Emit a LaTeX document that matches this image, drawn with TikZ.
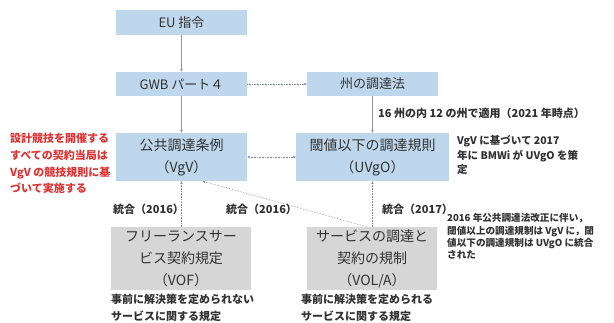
\documentclass[tikz,border=0pt]{standalone}
\usepackage{fontspec}
\setmainfont{Noto Sans CJK JP}
\usetikzlibrary{arrows.meta,calc}
\definecolor{boxblue}{RGB}{190,215,236}
\definecolor{boxgray}{RGB}{214,214,214}
\definecolor{txt}{RGB}{50,50,50}
\definecolor{redtxt}{RGB}{222,52,52}
\definecolor{arr}{RGB}{150,150,150}
\definecolor{dotarr}{RGB}{130,140,165}
\newcommand{\tlines}[1]{\parbox[t]{200pt}{\raggedright #1}}
\begin{document}
\begin{tikzpicture}[x=1pt,y=-1pt,
  box/.style={inner sep=0pt, align=center, text=txt},
  bluebox/.style={box, fill=boxblue},
  graybox/.style={box, fill=boxgray},
  topfont/.style={font=\fontsize{13}{16}\selectfont},
  midfont/.style={font=\fontsize{14}{22}\selectfont},
  note/.style={anchor=base west, inner sep=0pt, text=txt},
  solidarr/.style={draw=arr, line width=0.6pt, -{Stealth[length=3pt,width=2.6pt]}},
  dotarrow/.style={draw=dotarr, line width=0.6pt, densely dotted, -{Stealth[length=3pt,width=2.6pt]}},
]
\useasboundingbox (0,0) rectangle (614,323);

% boxes
\node[bluebox, topfont, minimum width=131pt, minimum height=25pt] (eu) at (181.5,22.5) {EU 指令};
\node[bluebox, topfont, minimum width=131pt, minimum height=24pt] (gwb) at (181.5,84) {GWB パート４};
\node[bluebox, topfont, minimum width=131pt, minimum height=24pt] (shu) at (372.5,84) {州の調達法};
\node[bluebox, midfont, minimum width=131pt, minimum height=48pt] (vgv) at (181.5,157) {公共調達条例\\（VgV）};
\node[bluebox, midfont, minimum width=153pt, minimum height=48pt] (uvgo) at (372.5,157) {閾値以下の調達規則\\（UVgO）};
\node[graybox, midfont, minimum width=140pt, minimum height=63pt] (vof) at (181,258.5) {フリーランスサー\\ビス契約規定\\（VOF）};
\node[graybox, midfont, minimum width=130pt, minimum height=63pt] (vola) at (372,258.5) {サービスの調達と\\契約の規制\\（VOL/A）};

% connectors
\draw[solidarr] (eu) -- (gwb);
\draw[solidarr] (gwb) -- (vgv);
\draw[solidarr] (shu) -- (uvgo);
\draw[dotarrow] (gwb) -- (shu);
\draw[dotarrow, {Stealth[length=3pt,width=2.6pt]}-{Stealth[length=3pt,width=2.6pt]}] (vgv) -- (uvgo);
\draw[dotarrow] (vof.north -| vgv) -- (vgv.south);
\draw[dotarrow] (vola.north -| uvgo) -- (uvgo.south);
\draw[dotarrow] ([xshift=-5pt]vola.north) -- ([xshift=21pt]vgv.south);

% annotations
\node[note, text=redtxt, font=\fontsize{11}{16.8}\selectfont\bfseries] (red) at (10,142.5)
  {\tlines{設計競技を開催する\\すべての契約当局は\\VgV の競技規則に基\\づいて実施する}};
\node[note, font=\fontsize{11}{14}\selectfont\bfseries] (n16) at (378,118) {16 州の内 12 の州で適用（2021 年時点）};
\node[note, font=\fontsize{10.5}{14.5}\selectfont\bfseries] (nvgv) at (457,145) {\tlines{VgV に基づいて 2017\\年に BMWi が UVgO を策\\定}};
\node[note, font=\fontsize{11}{14}\selectfont\bfseries] (t1) at (113,214) {統合（2016）};
\node[note, font=\fontsize{11}{14}\selectfont\bfseries] (t2) at (226,214) {統合（2016）};
\node[note, font=\fontsize{11}{14}\selectfont\bfseries] (t3) at (382,214) {統合（2017）};
\node[note, font=\fontsize{11}{17}\selectfont\bfseries] (uvof) at (111,304) {\tlines{事前に解決策を定められない\\サービスに関する規定}};
\node[note, font=\fontsize{11}{17}\selectfont\bfseries] (uvola) at (301,304) {\tlines{事前に解決策を定められる\\サービスに関する規定}};
\node[note, font=\fontsize{9.6}{12.3}\selectfont\bfseries] (nr) at (447,222) {\tlines{2016 年公共調達法改正に伴い，\\閾値以上の調達規制は VgV に，閾\\値以下の調達規制は UVgO に統合\\された}};
\end{tikzpicture}
\end{document}
